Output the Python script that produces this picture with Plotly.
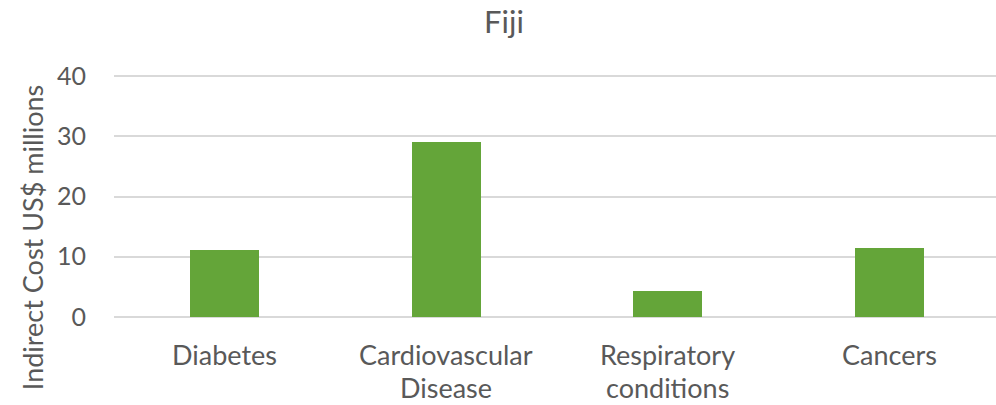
import plotly.graph_objects as go

categories = ["Diabetes", "Cardiovascular Disease", "Respiratory conditions", "Cancers"]
label_lines = [["Diabetes"], ["Cardiovascular", "Disease"], ["Respiratory", "conditions"], ["Cancers"]]
indirect_cost = [11.2, 29.1, 4.35, 11.45]
y_ticks = [0, 10, 20, 30, 40]

FONT = "Lato"
GREY = "#595959"

fig = go.Figure(
  go.Bar(
    x=categories, y=indirect_cost,
    marker=dict(color="#64a539", line=dict(width=0)),
    width=0.31,
  )
)

# category labels drawn as annotations so line spacing matches
annotations = []
line_y = [-0.141, -0.275]
for cat, lines in zip(categories, label_lines):
  for i, txt in enumerate(lines):
    annotations.append(dict(
      x=cat, xref="x", y=line_y[i], yref="paper", text=txt, showarrow=False,
      xanchor="center", yanchor="middle", font=dict(family=FONT, size=27, color=GREY)))

annotations.append(dict(
  x=-0.093, xref="paper", y=0.335, yref="paper", text="Indirect Cost US$ millions",
  showarrow=False, textangle=-90, xanchor="center", yanchor="middle",
  font=dict(family=FONT, size=27, color=GREY)))

fig.update_layout(
  width=996, height=405,
  margin=dict(l=114, r=0, t=72.5, b=85),
  paper_bgcolor="white", plot_bgcolor="white",
  showlegend=False,
  title=dict(text="Fiji", x=0.506, xref="container", y=1 - 22 / 405, yref="container",
             xanchor="center", yanchor="middle",
             font=dict(family=FONT, size=31, color=GREY)),
  font=dict(family=FONT, color=GREY),
  xaxis=dict(range=[-0.5, 3.482], showticklabels=False, showgrid=False,
             showline=False, zeroline=False, ticks=""),
  yaxis=dict(range=[-0.5, 40.5], tickvals=y_ticks, showgrid=True, gridcolor="#d9d9d9",
             gridwidth=1.5, zeroline=False, showline=False, ticks="",
             ticklabelstandoff=27, tickfont=dict(family=FONT, size=25, color=GREY)),
  annotations=annotations,
  bargap=0,
)

fig.write_html("out.html", config={"displayModeBar": False},
               post_script="document.body.style.margin='0';")
